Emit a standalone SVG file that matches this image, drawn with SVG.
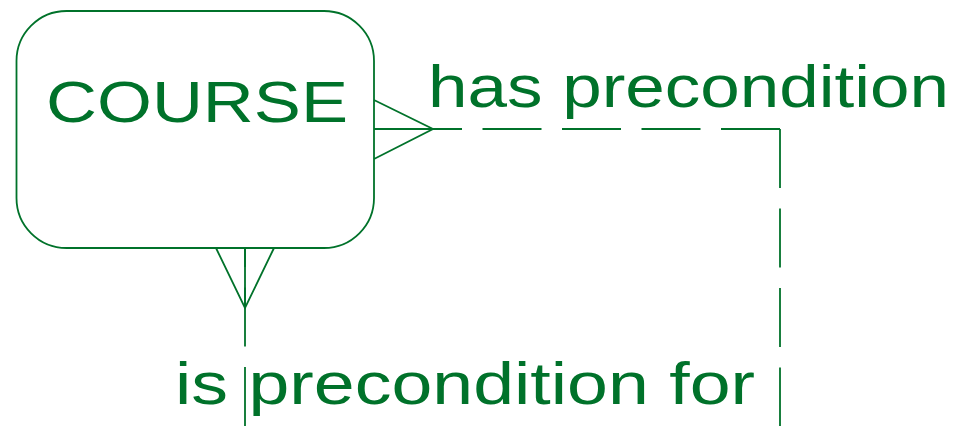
<svg xmlns="http://www.w3.org/2000/svg" width="958" height="426" viewBox="0 0 958 426">
<style>
.ln{fill:none;stroke:#00722a;stroke-width:1.8}
.dash{stroke-dasharray:59 20.5}
.t{fill:#00722a;font-family:"Liberation Sans",Arial,sans-serif}
</style>
<rect width="958" height="426" fill="#ffffff"/>
<g id="course">
<rect class="ln" x="16.5" y="11" width="357.5" height="237" rx="50" ry="50"/>
<text class="t" x="46" y="122" font-size="58" textLength="302" lengthAdjust="spacingAndGlyphs">COURSE</text>
</g>
<g id="connectors">
<path class="ln" d="M374,100 L433,129 L374,159 M374,129 H433"/>
<path class="ln dash" d="M780,129 H374"/>
<path class="ln dash" d="M780,129 V426"/>
<path class="ln" d="M216,248 L245,308 L274,248 M245,248 V308"/>
<path class="ln dash" d="M245,426 V248"/>
</g>
<g id="labels">
<text class="t" x="428" y="107" font-size="60" textLength="521" lengthAdjust="spacingAndGlyphs">has precondition</text>
<text class="t" x="175" y="404" font-size="60" textLength="580" lengthAdjust="spacingAndGlyphs">is precondition for</text>
</g>
</svg>
